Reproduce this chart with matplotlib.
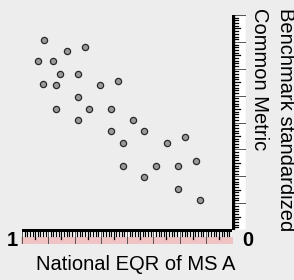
import numpy as np
import matplotlib.pyplot as plt
from matplotlib.patches import Rectangle

# national EQR (x, axis runs 1 -> 0) vs benchmark common metric (y)
eqr_ms_a = [0.895, 0.700, 0.786, 0.924, 0.852, 0.819, 0.733, 0.900, 0.838,
            0.629, 0.543, 0.733, 0.838, 0.681, 0.576, 0.733, 0.471, 0.576,
            0.419, 0.224, 0.519, 0.310, 0.519, 0.362, 0.257, 0.171, 0.419,
            0.257, 0.152]
common_metric = [0.884, 0.851, 0.833, 0.786, 0.786, 0.726, 0.726, 0.679, 0.674,
                 0.674, 0.693, 0.619, 0.563, 0.563, 0.563, 0.512, 0.512, 0.460,
                 0.460, 0.433, 0.405, 0.405, 0.298, 0.298, 0.298, 0.321, 0.247,
                 0.191, 0.140]

W, H = 294, 280
BG = '#ededed'
PINK = '#f0c4c4'
FONT = 'Liberation Sans'

fig = plt.figure(figsize=(W / 100, H / 100), dpi=100, facecolor=BG)


def px_axes(x0, y0, x1, y1):
    # rectangle given in pixels from top-left corner
    return fig.add_axes([x0 / W, 1 - y1 / H, (x1 - x0) / W, (y1 - y0) / H])


ax = px_axes(22, 15, 232, 230)
ax.set_facecolor('none')
ax.scatter(eqr_ms_a, common_metric, s=20, c='#9a9a9a', edgecolors='#2a2a2a',
           linewidths=0.9, zorder=3, clip_on=False)
ax.set_xlim(1, 0)
ax.set_ylim(0, 1)
ax.axis('off')

n_major = 8
n_minor = 10
ticks = np.linspace(0, 1, n_major * n_minor + 1)

# horizontal ruler
axh = px_axes(22, 229, 232, 244)
axh.set_xlim(1, 0)
axh.set_ylim(0, 1)
axh.axis('off')
axh.add_patch(Rectangle((0, 0), 1, 1, facecolor='white', edgecolor='#777777', lw=0.8))
axh.add_patch(Rectangle((-0.003, 0.03), 1.006, 0.45, facecolor=PINK, edgecolor='none',
                        clip_on=False))
for i, t in enumerate(ticks):
    if i % n_minor == 0:
        axh.plot([t, t], [0, 1], color='#555555', lw=0.7)
    elif i % (n_minor // 2) == 0:
        axh.plot([t, t], [0.35, 1], color='black', lw=0.9)
    else:
        axh.plot([t, t], [0.55, 1], color='black', lw=0.9)
axh.plot([0, 1], [0.93, 0.93], color='black', lw=2.2)

# vertical ruler
axv = px_axes(232, 15, 246, 230)
axv.set_xlim(0, 1)
axv.set_ylim(0, 1)
axv.axis('off')
axv.add_patch(Rectangle((0, 0), 1, 1, facecolor='white', edgecolor='#777777', lw=0.8))
for i, t in enumerate(ticks):
    if i % n_minor == 0:
        axv.plot([0, 1], [t, t], color='#555555', lw=0.7)
    elif i % (n_minor // 2) == 0:
        axv.plot([0, 0.6], [t, t], color='black', lw=0.9)
    else:
        axv.plot([0, 0.42], [t, t], color='black', lw=0.9)
axv.plot([0.08, 0.08], [0, 1], color='black', lw=2.4)

fig.text(12 / W, 1 - 240 / H, '1', ha='center', va='center', fontsize=14.5,
         fontweight='bold', family=FONT)
fig.text(248 / W, 1 - 240 / H, '0', ha='center', va='center', fontsize=14.5,
         fontweight='bold', family=FONT)
fig.text(136 / W, 1 - 265 / H, 'National EQR of MS A', ha='center', va='center',
         fontsize=14.5, family=FONT)
fig.text(260 / W, 1 - 8 / H, 'Common Metric', ha='center', va='top',
         fontsize=14.5, rotation=270, family=FONT)
fig.text(285 / W, 1 - 8 / H, 'Benchmark standardized', ha='center', va='top',
         fontsize=14.5, rotation=270, family=FONT)

fig.savefig('out.png', dpi=100, facecolor=BG)
